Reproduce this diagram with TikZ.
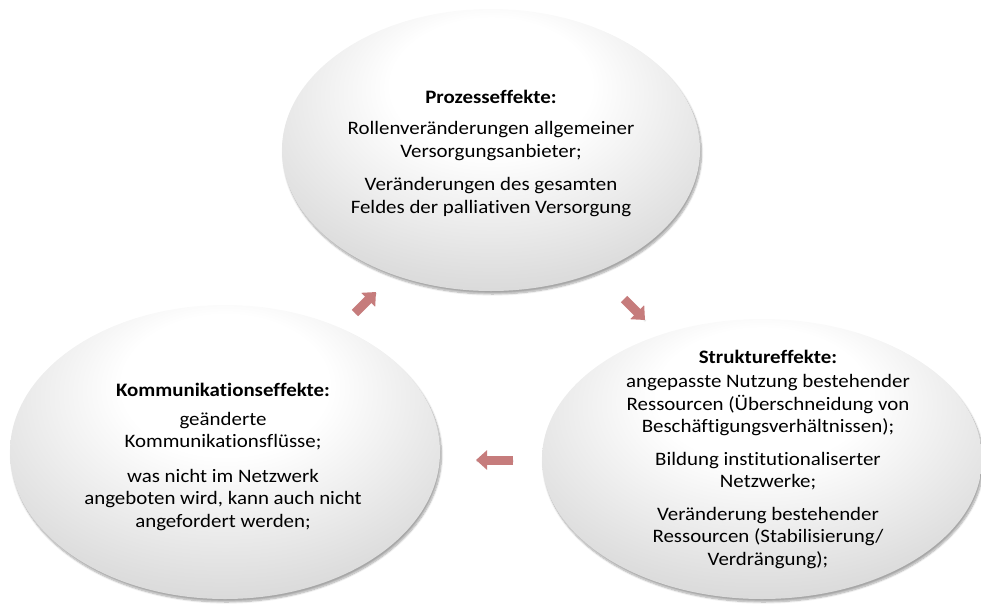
\documentclass[tikz,border=0pt]{standalone}
\usepackage{fontspec}
\setmainfont{Carlito}[FakeStretch=1.1,Ligatures={NoCommon}]
\usetikzlibrary{shapes.geometric,arrows.meta,shadows.blur}
\pgfdeclareradialshading{bubbleshade}{\pgfpoint{0bp}{14bp}}{%
  color(0bp)=(white); color(12bp)=(white); color(30bp)=(black!13); color(44bp)=(black!22); color(56bp)=(black!30); color(64bp)=(black!34)}
\definecolor{arrowpink}{RGB}{198,124,124}
\tikzset{
  bubble/.style={ellipse, inner sep=0pt, shading=bubbleshade, draw=none,
    blur shadow={shadow blur steps=8, shadow xshift=1.5pt, shadow yshift=-3pt, shadow opacity=35}},
  bubbletext/.style={align=center, inner sep=0pt, font=\fontsize{19}{22.5}\selectfont, text=black},
  blockarrow/.style={draw=arrowpink, line width=9pt, -{Triangle[length=11pt,width=19pt]}, arrowpink,
    blur shadow={shadow blur steps=4, shadow xshift=0.5pt, shadow yshift=-1pt, shadow opacity=20}}
}
\begin{document}
\begin{tikzpicture}[x=1pt,y=-1pt]
\useasboundingbox (0,0) rectangle (981,603);
% ellipses
\node[bubble, minimum width=418pt, minimum height=282pt] (top) at (491,150) {};
\node[bubble, minimum width=430pt, minimum height=294pt] (left) at (225,452) {};
\node[bubble, minimum width=440pt, minimum height=280pt] (right) at (762,459) {};
% texts
\node[bubbletext] (toptext) at (491,153) {\textbf{Prozesseffekte:}\\[9pt]
Rollenveränderungen allgemeiner\\ Versorgungsanbieter;\\[11pt]
Veränderungen des gesamten\\ Feldes der palliativen Versorgung};
\node[bubbletext] (lefttext) at (223,457) {\textbf{Kommunikationseffekte:}\\[6pt]
geänderte\\ Kommunikationsflüsse;\\[12pt]
was nicht im Netzwerk\\ angeboten wird, kann auch nicht\\ angefordert werden;};
\node[bubbletext] (righttext) at (768,459) {\textbf{Struktureffekte:}\\[2pt]
angepasste Nutzung bestehender\\ Ressourcen (Überschneidung von\\ Beschäftigungsverhältnissen);\\[10pt]
Bildung institutionaliserter\\ Netzwerke;\\[10pt]
Veränderung bestehender\\ Ressourcen (Stabilisierung/\\ Verdrängung);};
% arrows
\coordinate (a1s) at (355,313);
\coordinate (a1e) at (376,292);
\coordinate (a2s) at (624,299);
\coordinate (a2e) at (645,320);
\coordinate (a3s) at (513,460);
\coordinate (a3e) at (476,460);
\draw[blockarrow] (a1s) -- (a1e);
\draw[blockarrow] (a2s) -- (a2e);
\draw[blockarrow] (a3s) -- (a3e);
\end{tikzpicture}
\end{document}
